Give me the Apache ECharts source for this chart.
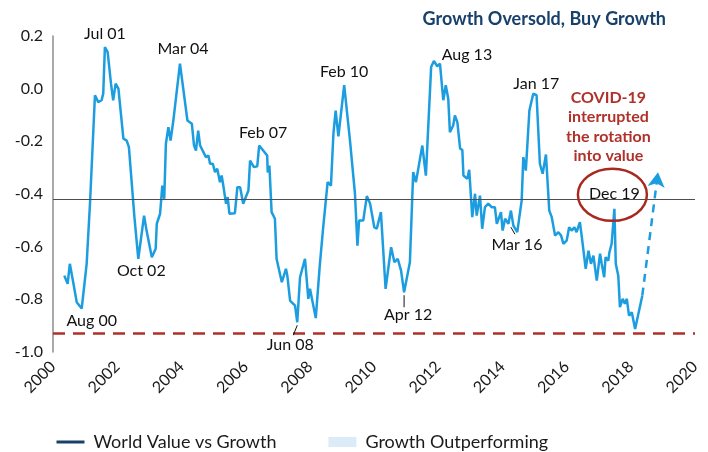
<!DOCTYPE html>
<html>
<head>
<meta charset="utf-8">
<script src="https://cdn.jsdelivr.net/npm/echarts@6/dist/echarts.min.js"></script>
<style>
  html, body { margin: 0; padding: 0; background: #fff; }
  #chart { width: 708px; height: 452px; }
</style>
</head>
<body>
<div id="chart"></div>
<script>
// World value vs growth, decimal years
var dates = [
  2000.06, 2000.18, 2000.26, 2000.39, 2000.51, 2000.69, 2000.87, 2000.99, 2001.17, 2001.29,
  2001.41, 2001.47, 2001.53, 2001.63, 2001.75, 2001.83, 2001.92, 2002.02, 2002.20, 2002.32,
  2002.40, 2002.60, 2002.74, 2002.95, 2003.04, 2003.23, 2003.37, 2003.41, 2003.53, 2003.61,
  2003.68, 2003.74, 2003.83, 2003.91, 2004.01, 2004.25, 2004.32, 2004.40, 2004.52, 2004.68,
  2004.76, 2004.83, 2004.91, 2004.98, 2005.19, 2005.28, 2005.34, 2005.44, 2005.52, 2005.60,
  2005.70, 2005.76, 2005.82, 2005.92, 2005.98, 2006.04, 2006.24, 2006.33, 2006.43, 2006.54,
  2006.73, 2006.79, 2006.93, 2007.05, 2007.12, 2007.41, 2007.43, 2007.49, 2007.57, 2007.69,
  2007.75, 2007.94, 2008.09, 2008.14, 2008.24, 2008.42, 2008.50, 2008.60, 2008.78, 2008.90,
  2008.96, 2009.17, 2009.32, 2009.44, 2009.60, 2009.72, 2009.81, 2009.89, 2009.99, 2010.20,
  2010.41, 2010.59, 2010.68, 2010.74, 2010.89, 2011.02, 2011.14, 2011.29, 2011.38, 2011.53,
  2011.70, 2011.90, 2012.02, 2012.14, 2012.26, 2012.37, 2012.58, 2012.70, 2012.80, 2013.03,
  2013.16, 2013.35, 2013.45, 2013.57, 2013.67, 2013.79, 2013.88, 2013.97, 2014.03, 2014.15,
  2014.21, 2014.30, 2014.40, 2014.48, 2014.52, 2014.66, 2014.73, 2014.84, 2014.94, 2015.00,
  2015.12, 2015.20, 2015.30, 2015.42, 2015.54, 2015.66, 2015.73, 2015.88, 2015.94, 2016.03,
  2016.15, 2016.24, 2016.33, 2016.47, 2016.63, 2016.69, 2016.78, 2016.81, 2016.91, 2017.05,
  2017.17, 2017.29, 2017.39, 2017.51, 2017.63, 2017.72, 2017.84, 2017.96, 2018.06, 2018.14,
  2018.26, 2018.35, 2018.44, 2018.54, 2018.62, 2018.74, 2018.81, 2018.95, 2019.05, 2019.14,
  2019.23, 2019.35, 2019.47, 2019.53, 2019.62, 2019.67, 2019.77, 2019.81, 2019.89, 2019.99,
  2020.04, 2020.13, 2020.19, 2020.29, 2020.37, 2020.44, 2020.52, 2020.62, 2020.74, 2021.00
];
var values = [
  -0.710, -0.741, -0.665, -0.740, -0.811, -0.835, -0.664, -0.436, -0.025, -0.051,
  -0.044, -0.019, 0.158, 0.139, 0.020, -0.044, 0.019, 0.000, -0.190, -0.197,
  -0.222, -0.488, -0.646, -0.482, -0.539, -0.640, -0.608, -0.513, -0.475, -0.368,
  -0.418, -0.209, -0.146, -0.197, -0.121, 0.095, 0.093, -0.025, -0.121, -0.133,
  -0.216, -0.235, -0.159, -0.216, -0.260, -0.254, -0.285, -0.285, -0.317, -0.304,
  -0.355, -0.330, -0.368, -0.437, -0.412, -0.475, -0.473, -0.374, -0.374, -0.437,
  -0.387, -0.273, -0.298, -0.295, -0.216, -0.254, -0.318, -0.292, -0.469, -0.494,
  -0.646, -0.735, -0.684, -0.710, -0.805, -0.824, -0.887, -0.716, -0.646, -0.798,
  -0.760, -0.871, -0.665, -0.526, -0.355, -0.368, -0.171, -0.083, -0.181, 0.013,
  -0.197, -0.399, -0.596, -0.501, -0.501, -0.408, -0.437, -0.526, -0.532, -0.469,
  -0.760, -0.602, -0.659, -0.646, -0.691, -0.773, -0.659, -0.317, -0.355, -0.216,
  -0.330, 0.082, 0.105, 0.085, 0.095, -0.044, 0.013, -0.038, -0.165, -0.140,
  -0.102, -0.127, -0.228, -0.232, -0.330, -0.342, -0.308, -0.488, -0.399, -0.482,
  -0.406, -0.532, -0.450, -0.437, -0.450, -0.450, -0.513, -0.469, -0.539, -0.494,
  -0.513, -0.463, -0.520, -0.545, -0.425, -0.260, -0.311, -0.260, -0.083, -0.019,
  -0.025, -0.285, -0.323, -0.250, -0.463, -0.488, -0.558, -0.545, -0.558, -0.589,
  -0.577, -0.526, -0.539, -0.526, -0.545, -0.507, -0.564, -0.684, -0.615, -0.665,
  -0.634, -0.729, -0.627, -0.665, -0.716, -0.640, -0.653, -0.621, -0.589, -0.456,
  -0.665, -0.710, -0.830, -0.798, -0.817, -0.798, -0.862, -0.849, -0.913, -0.786
];

// expected rebound (dashed arrow)
var projDates = [2021.00, 2021.57];
var projValues = [-0.786, -0.317];

// reference levels
var averageLevel = -0.425;
var oversoldLevel = -0.929;

// axis ticks
var yearTicks = [2000, 2002, 2004, 2006, 2008, 2010, 2012, 2014, 2016, 2018, 2020];
var yTicks = [-1.0, -0.8, -0.6, -0.4, -0.2, 0.0, 0.2];

// turning points
var noteText = ['Jul 01', 'Mar 04', 'Feb 07', 'Feb 10', 'Aug 13', 'Jan 17',
  'Aug 00', 'Oct 02', 'Jun 08', 'Apr 12', 'Mar 16', 'Dec 19'];
var noteDates = [2001.53, 2004.25, 2007.12, 2010.20, 2013.45, 2017.05,
  2000.69, 2002.74, 2008.50, 2012.37, 2016.24, 2019.99];
var noteValues = [0.158, 0.095, -0.216, 0.013, 0.105, -0.019,
  -0.835, -0.646, -0.887, -0.773, -0.526, -0.456];

var legendNames = ['World Value vs Growth', 'Growth Outperforming'];

// label placement (pixels from the point)
var noteOffsets = [[0, -13], [3, -15], [4, -13], [0, -13], [33, -6], [3, -10],
  [10, 12], [3, 12], [-7, 23], [4, 23], [6, 18], [0, -15]];
var leaders = { 8: [0, 3, -4, 13], 9: [0, 3, 0, 15], 10: [0, 0, 4, 7] };

var FONT = 'Lato, "Open Sans", sans-serif';
var BLUE = '#1b9de0';
var RED = '#b0302a';
var NAVY = '#17406b';

var lineData = [];
for (var i = 0; i < dates.length; i++) lineData.push([dates[i], values[i]]);
var projData = [[projDates[0], projValues[0]], [projDates[1], projValues[1]]];

var chart = echarts.init(document.getElementById('chart'));

var option = {
  animation: false,
  textStyle: { fontFamily: FONT },
  title: {
    text: 'Growth Oversold, Buy Growth',
    right: 37, top: 5,
    textStyle: { fontFamily: FONT, fontSize: 18, fontWeight: 'bold', color: NAVY }
  },
  grid: { left: 53, right: 13, top: 36, bottom: 100 },
  legend: {
    left: 50, top: 428,
    itemGap: 52, itemWidth: 28, itemHeight: 10,
    textStyle: { fontFamily: FONT, fontSize: 18, color: '#1a1a1a', padding: [0, 0, 0, 4] },
    data: [
      {
        name: legendNames[0],
        lineStyle: { color: NAVY, width: 3 },
        itemStyle: { color: NAVY, opacity: 0 }
      },
      { name: legendNames[1], icon: 'rect', itemStyle: { color: '#dcebf8' } }
    ]
  },
  xAxis: [
    {
      type: 'value', min: 1999.65, max: 2022.91, show: false
    },
    {
      type: 'value', min: yearTicks[0], max: yearTicks[yearTicks.length - 1],
      interval: yearTicks[1] - yearTicks[0], position: 'bottom',
      axisLine: { show: false }, axisTick: { show: false }, splitLine: { show: false },
      axisLabel: {
        rotate: 45, margin: 12, fontSize: 16, color: '#1a1a1a', fontFamily: FONT,
        formatter: function (v) { return String(v); }
      }
    }
  ],
  yAxis: {
    type: 'value', min: yTicks[0], max: yTicks[yTicks.length - 1],
    interval: yTicks[1] - yTicks[0],
    axisLine: { show: true, lineStyle: { color: '#8c8c8c', width: 1.5 } },
    axisTick: { show: false }, splitLine: { show: false },
    axisLabel: {
      margin: 10, fontSize: 16, color: '#1a1a1a', fontFamily: FONT,
      formatter: function (v) { return Math.abs(v) < 1e-9 ? '0.0' : v.toFixed(1); }
    }
  },
  series: [
    {
      name: legendNames[0], type: 'line', xAxisIndex: 0, data: lineData,
      symbol: 'none', color: BLUE,
      lineStyle: { color: BLUE, width: 2.5 },
      markLine: {
        silent: true, symbol: ['none', 'none'], label: { show: false },
        data: [
          { yAxis: averageLevel, lineStyle: { color: '#4d4d4d', width: 1, type: 'solid' } },
          { yAxis: oversoldLevel, lineStyle: { color: RED, width: 2.5, type: [12, 8] } }
        ]
      }
    },
    {
      name: 'projection', type: 'line', xAxisIndex: 0, data: [],
      symbol: 'none',
      markLine: {
        silent: true, symbol: ['none', 'arrow'], symbolSize: [13, 15],
        label: { show: false },
        lineStyle: { color: BLUE, width: 2.5, type: [8, 6] },
        data: [[{ coord: projData[0] }, { coord: projData[1] }]]
      }
    },
    {
      name: legendNames[1], type: 'line', xAxisIndex: 0, data: [],
      symbol: 'none', color: '#dcebf8'
    }
  ]
};

chart.setOption(option);

// annotations placed from the data points
var graphics = [];
function px(t, v) { return chart.convertToPixel({ xAxisIndex: 0, yAxisIndex: 0 }, [t, v]); }

for (var k = 0; k < noteText.length; k++) {
  var p = px(noteDates[k], noteValues[k]);
  graphics.push({
    type: 'text', x: p[0] + noteOffsets[k][0], y: p[1] + noteOffsets[k][1], z: 100,
    style: {
      text: noteText[k], font: '16px ' + FONT, fill: '#111',
      textAlign: 'center', textVerticalAlign: 'middle', align: 'center', verticalAlign: 'middle'
    }
  });
  if (leaders[k]) {
    var l = leaders[k];
    graphics.push({
      type: 'line', z: 100,
      shape: { x1: p[0] + l[0], y1: p[1] + l[1], x2: p[0] + l[2], y2: p[1] + l[3] },
      style: { stroke: '#111', lineWidth: 1 }
    });
  }
}

// ring round the last peak, and the COVID note above it
var dec = px(noteDates[11], noteValues[11]);
graphics.push({
  type: 'ellipse', z: 100,
  shape: { cx: dec[0] - 2, cy: dec[1] - 14, rx: 34.5, ry: 26 },
  style: { fill: 'none', stroke: '#a8291f', lineWidth: 2.5 }
});
graphics.push({
  type: 'text', x: dec[0] - 6, y: dec[1] - 82, z: 100,
  style: {
    text: 'COVID-19\ninterrupted\nthe rotation\ninto value',
    font: 'bold 16px ' + FONT, fill: RED, lineHeight: 19.5,
    textAlign: 'center', textVerticalAlign: 'middle', align: 'center', verticalAlign: 'middle'
  }
});

chart.setOption({ graphic: graphics });
</script>
</body>
</html>
